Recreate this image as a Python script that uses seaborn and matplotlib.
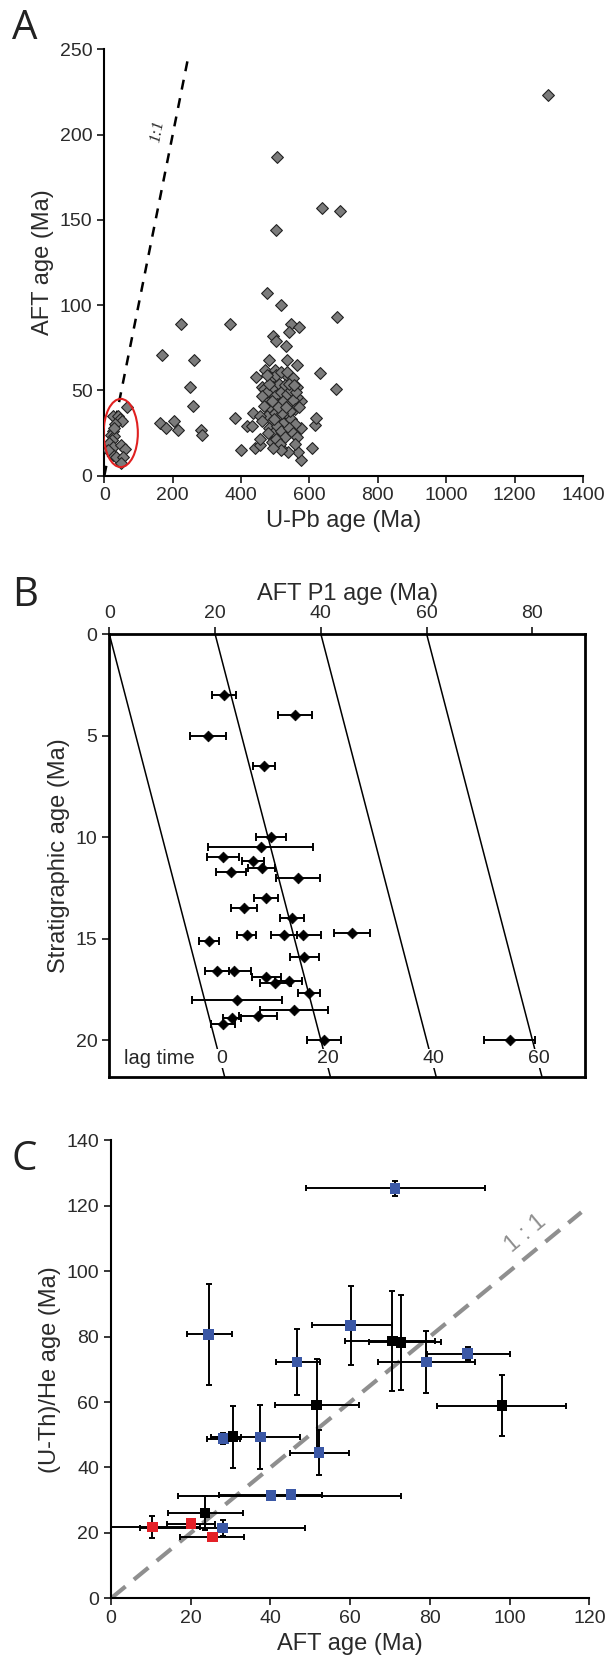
import numpy as np
import pandas as pd
import matplotlib
matplotlib.use("Agg")
import matplotlib.pyplot as plt
from matplotlib.patches import Ellipse
import seaborn as sns

# ---- panel A: U-Pb vs AFT ages ----
upb_age = [1298, 505, 638, 690, 501, 475, 517, 680, 223, 368, 545, 569, 540, 492, 503, 532,
           168, 262, 482, 535, 564, 469, 500, 632, 445, 532, 250, 678, 564, 462, 258, 66,
           382, 203, 163, 180, 215, 283, 285, 435, 418, 433, 401, 442, 455, 455, 608, 575,
           566, 536, 518, 615, 618, 574, 576, 563,
           466, 472, 477, 483, 489, 494, 500, 506, 511, 517, 523, 528, 534, 540, 545, 551,
           557, 477, 489, 500, 511, 523, 534, 545, 557, 483, 494, 506, 517, 528, 540, 551,
           489, 502, 514, 563, 557, 483, 503, 517, 534, 551, 568, 455, 466, 460, 480, 543,
           560, 497, 520, 509, 532, 491, 461, 477, 540, 554, 517, 494,
           24, 39, 46, 51, 32, 24, 20, 27, 21, 15, 24, 49, 61, 24, 34, 54, 49, 10, 29]
aft_age = [223, 187, 157, 155, 144, 107, 100, 93, 89, 89, 89, 87, 84, 82, 79, 76,
           71, 68, 68, 68, 65, 62, 62, 60, 58, 59, 52, 51, 52, 52, 41, 40,
           34, 32, 31, 28, 27, 27, 24, 37, 29, 29, 15, 16, 18, 21.5, 16, 9,
           14, 14, 16, 29.5, 34, 28, 44, 46,
           51, 44.5, 49, 40, 57, 52, 46.5, 42, 54, 49, 43.5, 53, 48, 42, 50, 44.5,
           39, 35, 32, 37, 34, 31, 36, 33, 30, 28, 25, 29, 26, 22.5, 28, 25,
           19.5, 21.5, 18.5, 22.5, 18.5, 54, 59, 61, 61, 57, 40, 35, 41, 32, 25, 38,
           49, 33, 37, 40, 40, 43.5, 46.5, 59, 54, 53, 15, 16,
           35, 35, 33, 32, 30, 26, 24, 23, 21, 19, 17, 18, 15.5, 12, 11, 11, 7.5, 15, 28]
one_to_one_a = [0, 245]
young_center = (48, 25)
young_size = (100, 40)

# ---- panel B: lag time ----
strat_age = [3.0, 4.0, 5.0, 6.5, 10.0, 10.5, 11.0, 11.2, 11.5, 11.7, 12.0, 13.0, 13.5, 14.0,
             14.7, 14.8, 14.8, 14.8, 15.1, 15.9, 16.6, 16.6, 16.9, 17.1, 17.2, 17.7, 18.0,
             18.5, 18.8, 18.9, 19.2, 20.0, 20.0]
aft_p1 = [21.7, 35.1, 18.7, 29.3, 30.6, 28.6, 21.5, 27.2, 28.8, 23.0, 35.7, 29.6, 25.5, 34.6,
          45.9, 36.6, 33.0, 26.0, 18.8, 36.9, 20.4, 23.5, 29.7, 33.9, 31.4, 37.8, 24.2,
          34.9, 28.1, 23.2, 21.5, 40.6, 75.7]
aft_p1_err = [2.2, 3.3, 3.4, 2.1, 2.8, 9.9, 3.0, 2.1, 2.6, 2.9, 4.2, 2.2, 2.5, 2.3,
              3.4, 3.5, 2.5, 1.8, 1.9, 2.8, 2.3, 3.2, 2.7, 2.6, 3.0, 2.1, 8.5,
              6.5, 3.6, 1.7, 2.3, 3.2, 4.8]
lag_times = [0, 20, 40, 60]
strat_range = [0, 21.8]

# ---- panel C: AFT vs (U-Th)/He ----
aft_c = [71.2, 24.5, 60.1, 70.6, 72.8, 46.7, 79.1, 89.5, 51.6, 98.1, 52.2, 28.2, 30.6,
         37.5, 40.1, 45.2, 23.6, 28.0, 10.4, 20.1, 25.4]
he_c = [125.3, 80.7, 83.4, 78.6, 78.2, 72.2, 72.2, 74.8, 59.1, 58.9, 44.5, 48.8, 49.4,
        49.3, 31.4, 31.7, 26.1, 21.5, 21.8, 22.8, 18.8]
aft_c_lo = [22.2, 5.5, 9.7, 11.9, 8.2, 5.4, 12.1, 10.3, 10.5, 16.2, 7.3, 4.1, 5.5,
            12.4, 23.3, 18.0, 9.2, 20.7, 12.0, 6.0, 8.0]
aft_c_hi = [22.6, 5.9, 10.5, 10.6, 9.9, 5.7, 12.2, 10.6, 10.5, 16.0, 7.5, 4.2, 2.0,
            9.8, 32.7, 7.7, 9.5, 20.7, 12.0, 6.0, 8.0]
he_c_err = [2.2, 15.4, 12.1, 15.2, 14.6, 10.2, 9.5, 1.9, 14.0, 9.4, 6.9, 1.6, 9.5,
            9.7, 0.8, 0.8, 5.1, 2.4, 3.4, 1.0, 1.2]
group_c = ["blue", "blue", "blue", "black", "black", "blue", "blue", "blue", "black", "black",
           "blue", "blue", "black", "blue", "blue", "blue", "black", "blue", "red", "red", "red"]
one_to_one_c = [0, 118]

sns.set_theme(style="ticks")
plt.rcParams["font.family"] = ["Liberation Sans", "DejaVu Sans"]
plt.rcParams["axes.edgecolor"] = "black"

fig = plt.figure(figsize=(6.08, 16.66), dpi=100)
ax_a = fig.add_axes([0.1716, 0.7145, 0.7873, 0.2559])
ax_b = fig.add_axes([0.1798, 0.3537, 0.7829, 0.2657])
ax_c = fig.add_axes([0.1826, 0.0406, 0.7867, 0.2750])

tick_fs = 14
label_fs = 17
txt_col = "#2a2a2a"

# panel A
df_a = pd.DataFrame({"upb": upb_age, "aft": aft_age})
ax_a.plot(one_to_one_a, one_to_one_a, color="black", lw=1.8, ls=(0, (4, 3.5)), zorder=1)
sns.scatterplot(data=df_a, x="upb", y="aft", marker="D", s=36, color="#7b7b7b",
                edgecolor="#222222", linewidth=0.8, ax=ax_a, zorder=3)
ax_a.add_patch(Ellipse(young_center, young_size[0], young_size[1], fill=False,
                       edgecolor="#e02020", lw=1.5, zorder=4))
ax_a.text(155, 202, "1:1", rotation=79, fontsize=12, family="Liberation Serif",
          style="italic", ha="center", va="center")
ax_a.set_xlim(0, 1400)
ax_a.set_ylim(0, 250)
ax_a.set_xticks(range(0, 1401, 200))
ax_a.set_yticks(range(0, 251, 50))
ax_a.set_xlabel("U-Pb age (Ma)", fontsize=label_fs, color=txt_col)
ax_a.set_ylabel("AFT age (Ma)", fontsize=label_fs, color=txt_col)
sns.despine(ax=ax_a)

# panel B
for lag in lag_times:
    xs = [lag + s for s in strat_range]
    ax_b.plot(xs, strat_range, color="black", lw=1.1, zorder=1)
    ax_b.text(lag + 21.3, 20.9, str(lag), fontsize=tick_fs, ha="center", va="center",
              bbox=dict(facecolor="white", edgecolor="none", pad=0.5), zorder=2)
ax_b.text(2.8, 20.9, "lag time", fontsize=tick_fs + 0.5, ha="left", va="center",
          bbox=dict(facecolor="white", edgecolor="none", pad=0.5), zorder=2)
ax_b.errorbar(aft_p1, strat_age, xerr=aft_p1_err, fmt="none", ecolor="black",
              elinewidth=1.4, capsize=3, capthick=1.4, zorder=3)
df_b = pd.DataFrame({"aft": aft_p1, "strat": strat_age})
sns.scatterplot(data=df_b, x="aft", y="strat", marker="D", s=30, color="black",
                edgecolor="black", linewidth=0.5, ax=ax_b, zorder=4)
ax_b.set_xlim(0, 90)
ax_b.set_ylim(strat_range[1], 0)
ax_b.set_xticks([0, 20, 40, 60, 80])
ax_b.set_yticks([0, 5, 10, 15, 20])
ax_b.xaxis.tick_top()
ax_b.xaxis.set_label_position("top")
ax_b.set_xlabel("AFT P1 age (Ma)", fontsize=label_fs, color=txt_col)
ax_b.set_ylabel("Stratigraphic age (Ma)", fontsize=label_fs, color=txt_col)
for sp in ax_b.spines.values():
    sp.set_linewidth(2)

# panel C
ax_c.plot(one_to_one_c, one_to_one_c, color="#8f8f8f", lw=3, ls=(0, (4.5, 2.6)), zorder=1)
ax_c.text(104, 111.5, "1 : 1", rotation=40, fontsize=17, color="#8f8f8f",
          ha="center", va="center")
ax_c.errorbar(aft_c, he_c, xerr=[aft_c_lo, aft_c_hi], yerr=he_c_err, fmt="none",
              ecolor="black", elinewidth=1.4, capsize=2.5, capthick=1.4, zorder=2)
df_c = pd.DataFrame({"aft": aft_c, "he": he_c, "group": group_c})
sns.scatterplot(data=df_c, x="aft", y="he", hue="group", marker="s", s=58,
                palette={"blue": "#3b58a6", "black": "black", "red": "#e42128"},
                edgecolor="none", legend=False, ax=ax_c, zorder=3)
ax_c.set_xlim(0, 120)
ax_c.set_ylim(0, 140)
ax_c.set_xticks(range(0, 121, 20))
ax_c.set_yticks(range(0, 141, 20))
ax_c.set_xlabel("AFT age (Ma)", fontsize=label_fs, color=txt_col)
ax_c.set_ylabel("(U-Th)/He age (Ma)", fontsize=label_fs, color=txt_col)
sns.despine(ax=ax_c)

for ax in (ax_a, ax_b, ax_c):
    ax.tick_params(labelsize=tick_fs, length=5, width=1.3, direction="out",
                   labelcolor=txt_col)
for ax in (ax_a, ax_c):
    for sp in ("left", "bottom"):
        ax.spines[sp].set_linewidth(1.5)

for label, ypix in (("A", 39), ("B", 606), ("C", 1170)):
    fig.text(12 / 608, 1 - ypix / 1666, label, fontsize=29, family="Open Sans",
             color="#222222", ha="left", va="baseline")

fig.savefig("out.png", dpi=100)
